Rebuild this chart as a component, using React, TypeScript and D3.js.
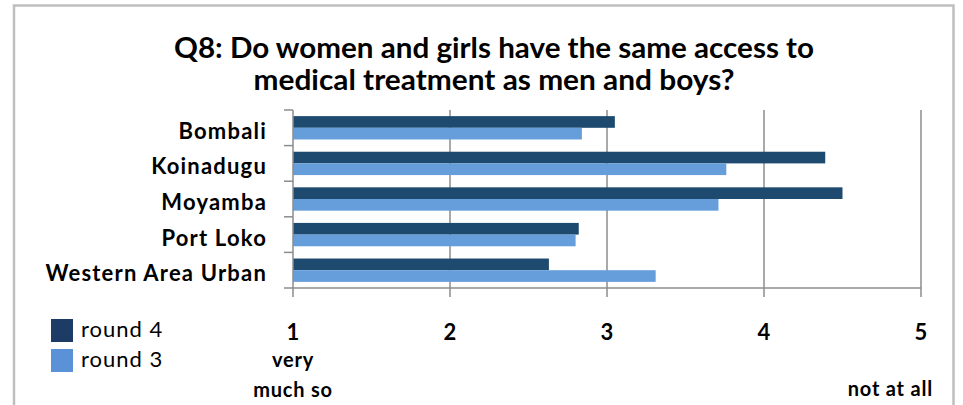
import React from "react";
import * as d3 from "d3";

const categories = ["Bombali", "Koinadugu", "Moyamba", "Port Loko", "Western Area Urban"];
const round4 = [3.05, 4.39, 4.5, 2.82, 2.63];
const round3 = [2.84, 3.76, 3.71, 2.8, 3.31];
const seriesNames = ["round 4", "round 3"];
const tickValues = [1, 2, 3, 4, 5];
const titleLines = [
  "Q8: Do women and girls have the same access to",
  "medical treatment as men and boys?",
];

const W = 963;
const H = 405;
const DARK = "#1D4A6E";
const LIGHT = "#659EDB";
const LEGEND_DARK = "#1C3C66";
const LEGEND_LIGHT = "#5B91D6";
const GRID = "#8C8C8C";
const FONT = "Lato, 'Open Sans', sans-serif";

export default function App() {
  const x = d3.scaleLinear().domain([1, 5]).range([293, 921]);
  const y = d3.scaleBand<string>().domain(categories).range([110, 288]).padding(0);
  const inner = d3
    .scaleBand<string>()
    .domain(seriesNames)
    .range([0, y.bandwidth()])
    .paddingInner(0)
    .paddingOuter(0.525);
  const data = categories.map((c, i) => ({ c, vals: [round4[i], round3[i]] }));
  const colors = [DARK, LIGHT];
  const [y0, y1] = y.range();
  const boundaries = categories.map((c) => y(c) as number).concat([y1]);

  return (
    <svg
      width={W}
      height={H}
      style={{ position: "absolute", left: 0, top: 0, background: "#fff" }}
      fontFamily={FONT}
    >
      <rect x={0} y={0} width={W} height={H} fill="#fff" />
      {/* frame */}
      <path d={`M14,${H + 2} L14,5.5 L953.5,5.5 L953.5,${H + 2}`} fill="none" stroke="#BFBFBF" strokeWidth={2.5} />

      {/* title */}
      {titleLines.map((t, i) => (
        <text
          key={i}
          x={494}
          y={58 + i * 32}
          textAnchor="middle"
          fontSize={28}
          fontWeight="bold"
          fill="#000"
          textLength={i === 0 ? 640 : 481}
          lengthAdjust="spacingAndGlyphs"
        >
          {t}
        </text>
      ))}

      {/* gridlines */}
      {tickValues.slice(1).map((t) => (
        <line key={t} x1={x(t)} x2={x(t)} y1={y0} y2={y1} stroke={GRID} strokeWidth={1.5} />
      ))}

      {/* bars */}
      {data.map((d) => (
        <g key={d.c} transform={`translate(0,${y(d.c)})`}>
          {d.vals.map((v, j) => (
            <rect
              key={j}
              x={x(1)}
              y={inner(seriesNames[j]) as number}
              width={x(v) - x(1)}
              height={inner.bandwidth()}
              fill={colors[j]}
            />
          ))}
        </g>
      ))}

      {/* category axis */}
      <line x1={x(1)} x2={x(1)} y1={y0} y2={y1} stroke={GRID} strokeWidth={1.5} />
      {boundaries.map((b, i) => (
        <line key={i} x1={x(1) - 9} x2={x(1)} y1={b} y2={b} stroke={GRID} strokeWidth={1.5} />
      ))}
      {categories.map((c) => (
        <text
          key={c}
          x={267}
          y={(y(c) as number) + y.bandwidth() / 2 + 11}
          textAnchor="end"
          fontSize={22}
          fontWeight="bold"
          letterSpacing={1.2}
          fill="#000"
        >
          {c}
        </text>
      ))}

      {/* value axis */}
      <line x1={x(1)} x2={x(5)} y1={y1} y2={y1} stroke={GRID} strokeWidth={1.5} />
      {tickValues.map((t) => (
        <line key={t} x1={x(t)} x2={x(t)} y1={y1} y2={y1 + 9} stroke={GRID} strokeWidth={1.5} />
      ))}
      {tickValues.map((t) => (
        <text key={t} x={x(t)} y={340} textAnchor="middle" fontSize={22} fontWeight="bold" fill="#000">
          {t}
        </text>
      ))}
      <text x={x(1)} y={367} textAnchor="middle" fontSize={20} fontWeight="bold" letterSpacing={0.8} fill="#000">
        very
      </text>
      <text x={x(1)} y={397} textAnchor="middle" fontSize={20} fontWeight="bold" letterSpacing={0.8} fill="#000">
        much so
      </text>
      <text x={933} y={396} textAnchor="end" fontSize={20} fontWeight="bold" letterSpacing={0.8} fill="#000">
        not at all
      </text>

      {/* legend */}
      {seriesNames.map((s, i) => (
        <g key={s} transform={`translate(51,${319 + i * 30})`}>
          <rect x={0} y={0} width={22} height={23} fill={i === 0 ? LEGEND_DARK : LEGEND_LIGHT} />
          <text x={30} y={18} fontSize={22} letterSpacing={1} fill="#000">
            {s}
          </text>
        </g>
      ))}
    </svg>
  );
}
